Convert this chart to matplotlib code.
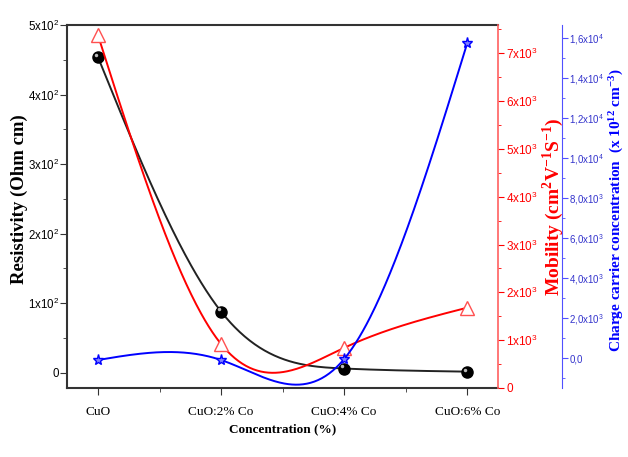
import numpy as np
import matplotlib.pyplot as plt
from matplotlib.ticker import MultipleLocator, FixedLocator
from matplotlib.transforms import ScaledTranslation

# данные
samples = ['CuO', 'CuO:2% Co', 'CuO:4% Co', 'CuO:6% Co']
resistivity = [454, 88, 6, 1.5]
mobility = [7380, 920, 840, 1680]
carrier = [-100, -100, -50, 15750]

x = np.arange(len(samples))


def spline(vals, n=100):
    # натуральний кубічний сплайн (крок 1)
    y = np.asarray(vals, float)
    k = len(y)
    A = np.zeros((k - 2, k - 2))
    b = np.zeros(k - 2)
    for i in range(k - 2):
        A[i, i] = 4
        if i > 0:
            A[i, i - 1] = 1
        if i < k - 3:
            A[i, i + 1] = 1
        b[i] = 6 * (y[i] - 2 * y[i + 1] + y[i + 2])
    M = np.concatenate([[0], np.linalg.solve(A, b), [0]])
    xs, ys = [], []
    for i in range(k - 1):
        t = np.linspace(0, 1, n)
        s = (M[i] * (1 - t) ** 3 / 6 + M[i + 1] * t ** 3 / 6
             + (y[i] - M[i] / 6) * (1 - t) + (y[i + 1] - M[i + 1] / 6) * t)
        xs.append(i + t)
        ys.append(s)
    return np.concatenate(xs), np.concatenate(ys)


plt.rcParams['mathtext.fontset'] = 'custom'
plt.rcParams['mathtext.rm'] = 'Liberation Sans'
plt.rcParams['mathtext.it'] = 'Liberation Sans:italic'
plt.rcParams['mathtext.bf'] = 'Liberation Serif:bold'

serif = 'Liberation Serif'
sans = 'Liberation Sans'

fig = plt.figure(figsize=(6.28, 4.57), dpi=100)
ax = fig.add_axes([0.107, 0.151, 0.686, 0.794])
ax2 = ax.twinx()
ax3 = ax.twinx()
ax3.spines['right'].set_position(('axes', 1.148))

# опір
ax.plot(*spline(resistivity), color='#222222', lw=1.4)
ax.plot(x, resistivity, 'o', ms=8, color='black', mec='black', zorder=3)
hl = ax.transData + ScaledTranslation(-1.5 / 72, 1.5 / 72, fig.dpi_scale_trans)
ax.plot(x, resistivity, 'o', ms=2.5, color='#bbbbbb', mec='none', transform=hl, zorder=4)
ax.set_xlim(-0.25, 3.25)
ax.set_ylim(-22, 500)
ax.set_yticks([0, 100, 200, 300, 400, 500])
ax.set_yticklabels(['0', '1x10$^2$', '2x10$^2$', '3x10$^2$', '4x10$^2$', '5x10$^2$'],
                   family=sans, fontsize=8.3)
ax.yaxis.set_minor_locator(MultipleLocator(50))
ax.set_xticks(x)
ax.set_xticklabels(samples, family=serif, fontsize=9.5)
ax.xaxis.set_minor_locator(FixedLocator([0.5, 1.5, 2.5]))
ax.set_ylabel('Resistivity (Ohm cm)', family=serif, fontweight='bold', fontsize=13.5)
ax.yaxis.set_label_coords(-0.092, 0.52)
ax.set_xlabel('Concentration (%)', family=serif, fontweight='bold', fontsize=9.5)
ax.tick_params(which='both', direction='out', color='#333333')
ax.tick_params(which='major', length=5)
ax.tick_params(which='minor', length=3)
ax.tick_params(axis='y', pad=1)
ax.tick_params(axis='x', pad=8)
for s in ['left', 'bottom', 'top']:
    ax.spines[s].set_color('#333333')
    ax.spines[s].set_linewidth(1.5)
ax.spines['right'].set_visible(False)

# рухливість
ax2.plot(*spline(mobility), color='red', lw=1.4)
ax2.plot(x, mobility, '^', ms=10, mfc='white', mec='#ff5050', mew=1)
ax2.set_ylim(0, 7590)
ax2.set_yticks(range(0, 8000, 1000))
ax2.set_yticklabels(['0'] + ['%dx10$^3$' % i for i in range(1, 8)],
                    family=sans, fontsize=8.5, color='red')
ax2.yaxis.set_minor_locator(MultipleLocator(500))
ax2.tick_params(which='both', direction='out', color='red', pad=2)
ax2.tick_params(which='major', length=4)
ax2.tick_params(which='minor', length=2.5)
ax2.spines['right'].set_color('#ff6060')
ax2.spines['right'].set_linewidth(1.2)
for s in ['left', 'bottom', 'top']:
    ax2.spines[s].set_visible(False)
ax2.set_ylabel(r'Mobility (cm$^{\mathbf{2}}$V$^{\mathbf{-1}}$S$^{\mathbf{-1}}$)',
               family=serif, fontweight='bold', fontsize=14, color='red')
ax2.yaxis.set_label_coords(1.1, 0.5)

# концентрація носіїв
ax3.plot(*spline(carrier), color='blue', lw=1.4)
ax3.plot(x, carrier, '*', ms=8, mfc='#7f7fff', mec='blue', mew=1)
ax3.set_ylim(-1500, 16650)
ticks3 = list(range(0, 18000, 2000))
ax3.set_yticks(ticks3)
labels3 = ['0,0'] + ['%d,0x10$^3$' % (t // 1000) for t in ticks3[1:5]] + \
          ['%s,%sx10$^4$' % (str(t)[0], str(t)[1]) for t in ticks3[5:]]
ax3.set_yticklabels(labels3, family=sans, fontsize=7, color='#3333cc')
ax3.yaxis.set_minor_locator(MultipleLocator(1000))
ax3.tick_params(which='both', direction='out', color='#5050ff', pad=1.5)
ax3.tick_params(which='major', length=4)
ax3.tick_params(which='minor', length=2.5)
ax3.spines['right'].set_color('#5050ff')
for s in ['left', 'bottom', 'top']:
    ax3.spines[s].set_visible(False)
ax3.set_ylabel(r'Charge carrier concentration  (x 10$^{\mathbf{12}}$ cm$^{\mathbf{-3}}$)',
               family=serif, fontweight='bold', fontsize=11, color='blue')
ax3.yaxis.set_label_coords(1.25, 0.49)

fig.savefig('out.png', dpi=100)
